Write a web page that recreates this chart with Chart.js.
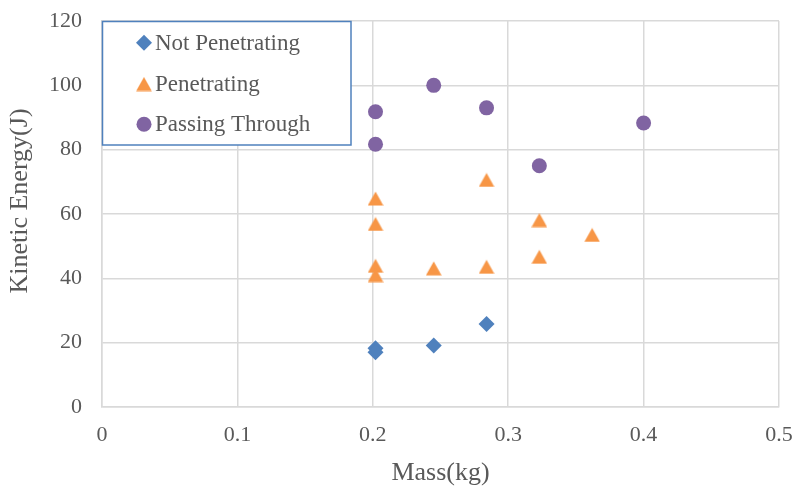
<!DOCTYPE html>
<html>
<head>
<meta charset="utf-8">
<script src="https://cdn.jsdelivr.net/npm/chart.js@4"></script>
<style>
    html, body { margin: 0; padding: 0; background: #fff; }
    #wrap { width: 794px; height: 489px; }
</style>
</head>
<body>
<div id="wrap"><canvas id="energyChart" width="794" height="489"></canvas></div>
<script>
// ===== Kinetic energy vs mass =====

const xTicks = [0, 0.1, 0.2, 0.3, 0.4, 0.5];
const yTicks = [0, 20, 40, 60, 80, 100, 120];

const seriesNames = ['Not Penetrating', 'Penetrating', 'Passing Through'];

const notPenMass = [0.202, 0.202, 0.245, 0.284];
const notPenEnergy = [18.3, 17.0, 19.1, 25.8];

const penMass = [0.202, 0.202, 0.202, 0.202, 0.245, 0.284, 0.284, 0.323, 0.323, 0.362];
const penEnergy = [64.8, 56.9, 43.9, 41.0, 43.1, 43.6, 70.6, 58.1, 46.7, 53.5];

const passMass = [0.202, 0.202, 0.245, 0.284, 0.323, 0.4];
const passEnergy = [91.8, 81.7, 100.0, 93.0, 75.0, 88.3];

const FONT = "'Liberation Serif', 'Times New Roman', serif";
const TEXT = '#595959';
const GRID = '#d9d9d9';

// triangle marker centred on its bounding box
function makeTriangle(color) {
    const c = document.createElement('canvas');
    c.width = 16;
    c.height = 15;
    const g = c.getContext('2d');
    g.fillStyle = color;
    g.beginPath();
    g.moveTo(8, 0.5);
    g.lineTo(15.8, 14.5);
    g.lineTo(0.2, 14.5);
    g.closePath();
    g.fill();
    return c;
}

function toPoints(xs, ys) {
    return xs.map((x, i) => ({ x: x, y: ys[i] }));
}

const triangle = makeTriangle('#F79646');

// Legend box drawn inside the plot area
const boxLegend = {
    id: 'boxLegend',
    afterDraw(chart) {
        const ctx = chart.ctx;
        const left = 102.5, top = 21.5, w = 248.5, h = 123.5;
        ctx.save();
        ctx.fillStyle = '#fff';
        ctx.fillRect(left, top, w, h);
        ctx.strokeStyle = '#4F81BD';
        ctx.lineWidth = 1.5;
        ctx.strokeRect(left, top, w, h);

        const rows = [42.7, 84, 124.3];
        ctx.font = '23px ' + FONT;
        ctx.fillStyle = TEXT;
        ctx.textBaseline = 'middle';
        chart.data.datasets.forEach((ds, i) => {
            const y = rows[i];
            ctx.save();
            ctx.fillStyle = ds.backgroundColor;
            ctx.strokeStyle = ds.backgroundColor;
            Chart.helpers.drawPoint(ctx, {
                pointStyle: ds.pointStyle,
                radius: ds.pointRadius,
                borderWidth: 0
            }, 144, y);
            ctx.restore();
            ctx.fillText(ds.label, 155, y + 1);
        });
        ctx.restore();
    }
};

new Chart(document.getElementById('energyChart').getContext('2d'), {
    type: 'scatter',
    data: {
        datasets: [{
            label: seriesNames[0],
            data: toPoints(notPenMass, notPenEnergy),
            pointStyle: 'rectRot',
            pointRadius: 8,
            backgroundColor: '#4F81BD',
            borderColor: '#4F81BD',
            borderWidth: 0
        }, {
            label: seriesNames[1],
            data: toPoints(penMass, penEnergy),
            pointStyle: triangle,
            pointRadius: 8,
            backgroundColor: '#F79646',
            borderColor: '#F79646',
            borderWidth: 0
        }, {
            label: seriesNames[2],
            data: toPoints(passMass, passEnergy),
            pointStyle: 'circle',
            pointRadius: 7.5,
            backgroundColor: '#8064A2',
            borderColor: '#8064A2',
            borderWidth: 0
        }]
    },
    options: {
        responsive: false,
        animation: false,
        events: [],
        layout: { padding: { top: 21, right: 15, left: 0, bottom: 0 } },
        plugins: {
            legend: { display: false },
            tooltip: { enabled: false }
        },
        scales: {
            x: {
                type: 'linear',
                min: 0,
                max: 0.5,
                afterBuildTicks: (scale) => { scale.ticks = xTicks.map(v => ({ value: v })); },
                afterFit: (scale) => {
                    scale.height = 82;
                    scale.paddingLeft = 0;
                    scale.paddingRight = 0;
                },
                ticks: {
                    color: TEXT,
                    font: { family: FONT, size: 22 },
                    padding: 15,
                    maxRotation: 0,
                    callback: (v) => String(v)
                },
                grid: { color: GRID, lineWidth: 1.5, drawTicks: false },
                border: { color: GRID, width: 1.5 },
                title: {
                    display: true,
                    text: 'Mass(kg)',
                    color: TEXT,
                    font: { family: FONT, size: 26 },
                    padding: { top: 0, bottom: 0 }
                }
            },
            y: {
                type: 'linear',
                min: 0,
                max: 120,
                afterBuildTicks: (scale) => { scale.ticks = yTicks.map(v => ({ value: v })); },
                afterFit: (scale) => {
                    scale.width = 102;
                    scale.paddingTop = 0;
                    scale.paddingBottom = 0;
                },
                ticks: {
                    color: TEXT,
                    font: { family: FONT, size: 22 },
                    padding: 20
                },
                grid: { color: GRID, lineWidth: 1.5, drawTicks: false },
                border: { color: GRID, width: 1.5 },
                title: {
                    display: true,
                    // leading en spaces lift the rotated title a little above the axis centre
                    text: '\u2002\u2002Kinetic Energy(J)',
                    color: TEXT,
                    font: { family: FONT, size: 26 },
                    padding: { top: 5, bottom: 0 }
                }
            }
        }
    },
    plugins: [boxLegend]
});
</script>
</body>
</html>
